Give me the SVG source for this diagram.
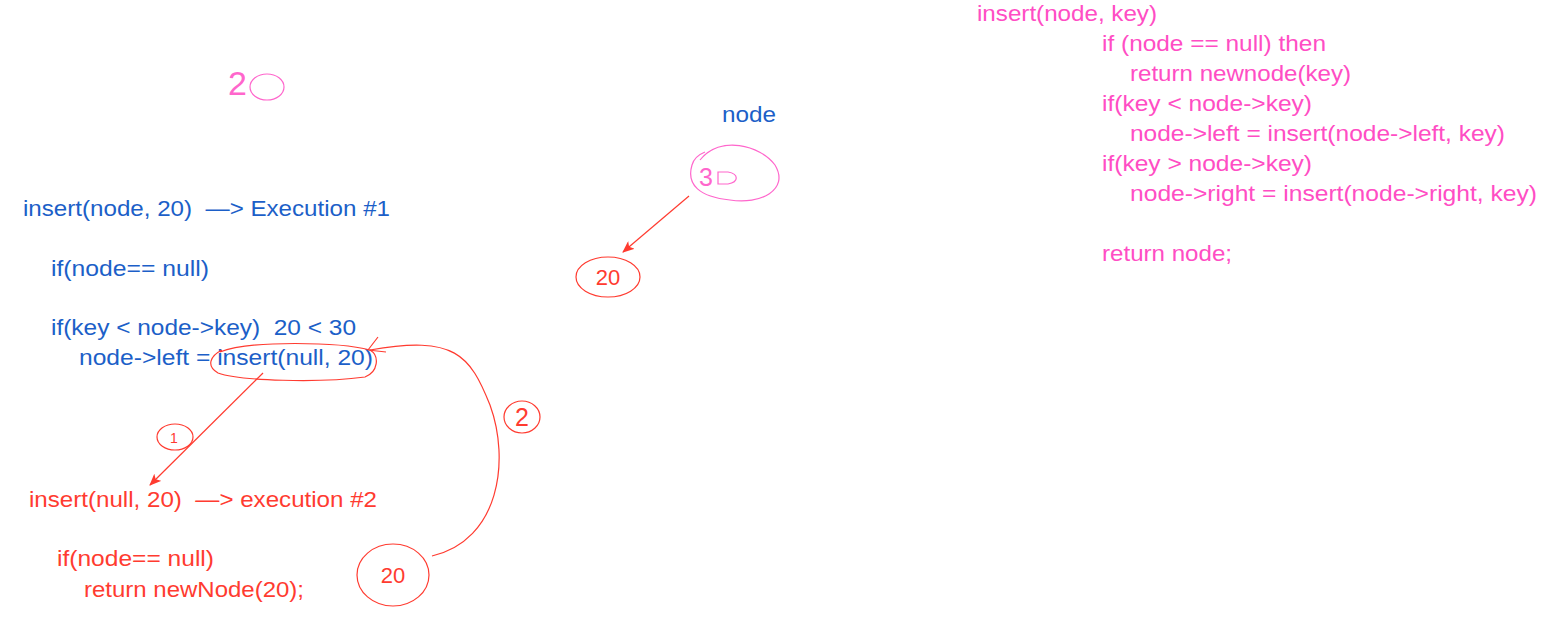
<svg xmlns="http://www.w3.org/2000/svg" width="1560" height="642" viewBox="0 0 1560 642">
<defs>
<style>
text{font-family:"Liberation Sans",Arial,sans-serif;font-size:22px;white-space:pre}
.b{fill:#1c5fc8}
.r{fill:#ff3b30}
.p{fill:#ff4dc4}
.hp{fill:#ff66cc}
.rl{fill:none;stroke:#ff3b30;stroke-width:1.2}
.pl{fill:none;stroke:#ff66cc;stroke-width:1.2}
</style>
<marker id="ah" markerWidth="12" markerHeight="10" refX="11" refY="5" orient="auto" markerUnits="userSpaceOnUse">
<path d="M0,0 L12,5 L0,10 L3,5 Z" fill="#ff3b30"/>
</marker>
</defs>
<rect width="1560" height="642" fill="#fff"/>

<g id="pseudocode">
<text class="p" x="977" y="21" textLength="180" lengthAdjust="spacingAndGlyphs">insert(node, key)</text>
<text class="p" x="1102" y="51" textLength="224" lengthAdjust="spacingAndGlyphs">if (node == null) then</text>
<text class="p" x="1130" y="81" textLength="221" lengthAdjust="spacingAndGlyphs">return newnode(key)</text>
<text class="p" x="1102" y="111" textLength="210" lengthAdjust="spacingAndGlyphs">if(key &lt; node-&gt;key)</text>
<text class="p" x="1130" y="141" textLength="375" lengthAdjust="spacingAndGlyphs">node-&gt;left = insert(node-&gt;left, key)</text>
<text class="p" x="1102" y="171" textLength="210" lengthAdjust="spacingAndGlyphs">if(key &gt; node-&gt;key)</text>
<text class="p" x="1130" y="201" textLength="407" lengthAdjust="spacingAndGlyphs">node-&gt;right = insert(node-&gt;right, key)</text>
<text class="p" x="1102" y="261" textLength="130" lengthAdjust="spacingAndGlyphs">return node;</text>
</g>

<g id="key20">
<text class="hp" x="228" y="95" style="font-size:34px">2</text>
<ellipse class="pl" cx="267" cy="87" rx="17" ry="13"/>
</g>

<g id="execution1">
<text class="b" x="23" y="216" xml:space="preserve" textLength="367" lengthAdjust="spacingAndGlyphs">insert(node, 20)  —&gt; Execution #1</text>
<text class="b" x="51" y="276" textLength="158" lengthAdjust="spacingAndGlyphs">if(node== null)</text>
<text class="b" x="51" y="335" xml:space="preserve" textLength="305" lengthAdjust="spacingAndGlyphs">if(key &lt; node-&gt;key)  20 &lt; 30</text>
<text class="b" x="79" y="365" textLength="294" lengthAdjust="spacingAndGlyphs">node-&gt;left = insert(null, 20)</text>
<path class="rl" d="M220,352 C250,340 340,342 370,350 C380,356 378,372 365,377 C320,383 240,381 218,373 C206,366 210,356 222,350"/>
</g>

<g id="execution2">
<text class="r" x="29" y="507" xml:space="preserve" textLength="348" lengthAdjust="spacingAndGlyphs">insert(null, 20)  —&gt; execution #2</text>
<text class="r" x="57" y="566" textLength="157" lengthAdjust="spacingAndGlyphs">if(node== null)</text>
<text class="r" x="84" y="597" textLength="220" lengthAdjust="spacingAndGlyphs">return newNode(20);</text>
</g>

<g id="nodeLabel">
<text class="b" x="722" y="122" textLength="54" lengthAdjust="spacingAndGlyphs">node</text>
</g>

<g id="node30">
<path class="pl" d="M700,160 C720,135 760,145 775,165 C790,190 760,205 730,200 C700,197 686,185 692,165 C694,158 700,154 705,152"/>
<text class="hp" x="699" y="186" style="font-size:25px">3</text>
<path class="pl" d="M718,172 L728,172 C739,174 739,182 728,184 L718,184 Z"/>
</g>

<g id="node20a">
<ellipse class="rl" cx="608" cy="277" rx="32" ry="20"/>
<text class="r" x="608" y="285" text-anchor="middle">20</text>
</g>

<g id="node20b">
<ellipse class="rl" cx="393" cy="575" rx="36" ry="31"/>
<text class="r" x="393" y="583" text-anchor="middle">20</text>
</g>

<g id="step1">
<ellipse class="rl" cx="175" cy="437" rx="18" ry="13"/>
<text class="r" x="174" y="443" text-anchor="middle" style="font-size:14px">1</text>
</g>

<g id="step2">
<ellipse class="rl" cx="522" cy="417" rx="18" ry="16"/>
<text class="r" x="522" y="426" text-anchor="middle" style="font-size:25px">2</text>
</g>

<g id="connectors">
<line class="rl" x1="689" y1="196" x2="623" y2="252" marker-end="url(#ah)"/>
<line class="rl" x1="263" y1="373" x2="150" y2="485" marker-end="url(#ah)"/>
<path class="rl" d="M432,556 C500,540 510,460 490,405 C470,355 455,335 370,350"/>
<path class="rl" d="M368,350 L378,337 M368,350 L386,352"/>
</g>
</svg>
